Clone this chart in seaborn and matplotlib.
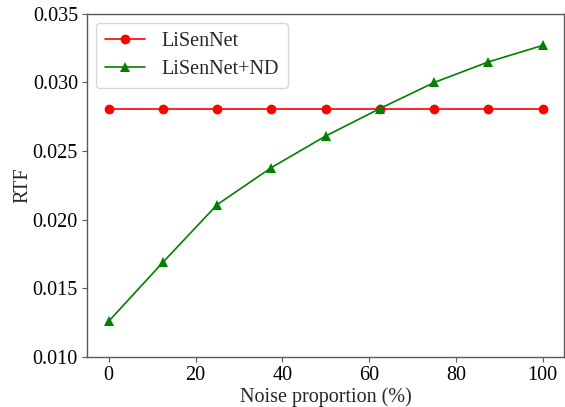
import pandas as pd
import matplotlib
matplotlib.use('Agg')
import matplotlib.pyplot as plt
import seaborn as sns

noise = [0, 12.5, 25, 37.5, 50, 62.5, 75, 87.5, 100]
lisennet = [0.0281, 0.0281, 0.0281, 0.0281, 0.0281, 0.0281, 0.0281, 0.0281, 0.0281]
lisennet_nd = [0.0126, 0.0169, 0.0211, 0.0238, 0.0261, 0.0281, 0.0300, 0.0315, 0.0327]
methods = ['LiSenNet', 'LiSenNet+ND']

df = pd.concat([
    pd.DataFrame({'noise': noise, 'rtf': lisennet, 'method': methods[0]}),
    pd.DataFrame({'noise': noise, 'rtf': lisennet_nd, 'method': methods[1]}),
], ignore_index=True)

sns.set_style('ticks')
plt.rcParams['font.family'] = ['Liberation Serif', 'DejaVu Serif']
plt.rcParams['axes.edgecolor'] = '0.35'
plt.rcParams['xtick.color'] = '0.35'
plt.rcParams['ytick.color'] = '0.35'
plt.rcParams['xtick.labelcolor'] = 'black'
plt.rcParams['ytick.labelcolor'] = 'black'

fig = plt.figure(figsize=(5.65, 4.07), dpi=100)
ax = fig.add_axes([0.154, 0.123, 0.845, 0.843])

sns.lineplot(data=df, x='noise', y='rtf', hue='method', style='method',
             markers={'LiSenNet': 'o', 'LiSenNet+ND': '^'}, dashes=False,
             palette={'LiSenNet': 'red', 'LiSenNet+ND': 'green'},
             markersize=7, linewidth=1.2, markeredgewidth=0, ax=ax)

ax.set_ylim(0.010, 0.035)
ax.set_yticks([0.010, 0.015, 0.020, 0.025, 0.030, 0.035])
ax.set_yticklabels([f'{v:.3f}' for v in ax.get_yticks()])
ax.set_xlim(-5, 105)
ax.set_xticks([0, 20, 40, 60, 80, 100])
ax.tick_params(labelsize=14.5, pad=3)
ax.set_xlabel('Noise proportion (%)', fontsize=14.5, labelpad=2)
ax.set_ylabel('RTF', fontsize=14.5, labelpad=0)
for s in ax.spines.values():
    s.set_visible(True)
    s.set_linewidth(1.0)

ax.legend(title=None, fontsize=14.5, loc='upper left', frameon=True,
          borderpad=0.45, handlelength=2.0, borderaxespad=0.45,
          labelspacing=0.45)

fig.savefig('out.png', dpi=100)
